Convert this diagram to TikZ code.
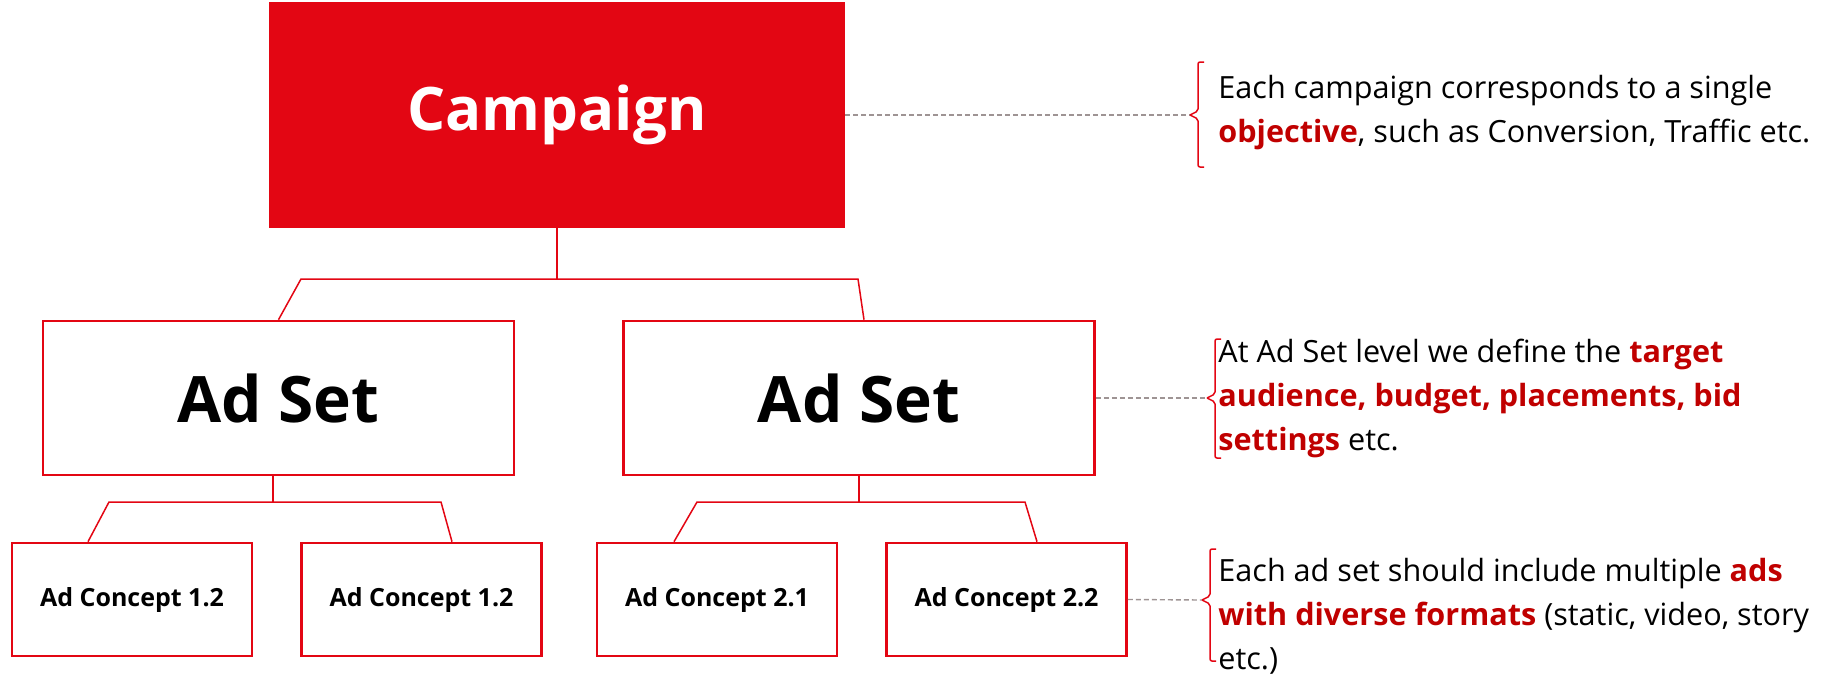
\documentclass[tikz,border=0pt]{standalone}
\usepackage{fontspec}
\setmainfont{Open Sans}
\definecolor{brandred}{HTML}{E30613}
\definecolor{keyred}{HTML}{C00000}
\definecolor{leadgray}{HTML}{9E9494}
\newcommand{\keyterm}[1]{\textcolor{keyred}{\textbf{#1}}}
\tikzset{
  levelbox/.style={draw=brandred, line width=1.3pt, fill=white, inner sep=0pt},
  link/.style={draw=brandred, line width=0.75pt},
  lead/.style={draw=leadgray, line width=0.7pt, dash pattern=on 2.5pt off 1.5pt},
  bracket/.style={draw=brandred, line width=0.75pt, rounded corners=1pt},
  note/.style={anchor=west, align=left, inner sep=0pt, font=\fontsize{15.3}{22}\selectfont}
}

\begin{document}
\begin{tikzpicture}[x=0.5pt, y=-0.5pt]
      \useasboundingbox (0,0) rectangle (1831,675);
      \node[levelbox, fill=brandred, text=white, minimum width=287pt, minimum height=111.5pt,
            font=\fontsize{30}{36}\selectfont\bfseries] (camp) at (557,115) {Campaign};
      \node[levelbox, minimum width=235.5pt, minimum height=77pt, font=\fontsize{32}{40}\selectfont\bfseries]
            (adsetA) at (278.5,398) {Ad Set};
      \node[levelbox, minimum width=235.5pt, minimum height=77pt, font=\fontsize{32}{40}\selectfont\bfseries]
            (adsetB) at (859,398) {Ad Set};
      \node[levelbox, minimum width=120pt, minimum height=56.5pt, font=\fontsize{12.5}{16}\selectfont\bfseries]
            (ac1) at (132,599.5) {Ad Concept 1.2};
      \node[levelbox, minimum width=120pt, minimum height=56.5pt, font=\fontsize{12.5}{16}\selectfont\bfseries]
            (ac2) at (421.5,599.5) {Ad Concept 1.2};
      \node[levelbox, minimum width=120pt, minimum height=56.5pt, font=\fontsize{12.5}{16}\selectfont\bfseries]
            (ac3) at (717,599.5) {Ad Concept 2.1};
      \node[levelbox, minimum width=120pt, minimum height=56.5pt, font=\fontsize{12.5}{16}\selectfont\bfseries]
            (ac4) at (1006.5,599.5) {Ad Concept 2.2};
      % campaign to ad sets
      \coordinate (jA) at (301,279);
      \coordinate (jB) at (858,279);
      \draw[link] (camp.south) -- (camp.south |- jA);
      \draw[link] (adsetA.north) -- (jA) -- (jB) -- ([xshift=2.5pt]adsetB.north);
      % first ad set to its concepts
      \coordinate (jA1) at (109,502);
      \coordinate (jA2) at (441,502);
      \draw[link] ([xshift=-2.75pt]adsetA.south) -- ([xshift=-2.75pt]adsetA.south |- jA1);
      \draw[link] ([xshift=-22pt]ac1.north) -- (jA1) -- (jA2) -- ([xshift=15.25pt]ac2.north);
      % second ad set to its concepts
      \coordinate (jB1) at (697,502);
      \coordinate (jB2) at (1025,502);
      \draw[link] (adsetB.south) -- (adsetB.south |- jB1);
      \draw[link] ([xshift=-21.5pt]ac3.north) -- (jB1) -- (jB2) -- ([xshift=15.25pt]ac4.north);
      % notes on the right
      \coordinate (tip1) at (1190,115);
      \coordinate (tip2) at (1207,398);
      \coordinate (tip3) at (1202,600);
      \draw[lead] (camp.east) -- (tip1);
      \draw[lead] (adsetB.east) -- (tip2);
      \draw[lead] (ac4.east) -- (tip3);
      \draw[bracket] (tip1) -- ++(8,-4) -- ++(0,-49) -- ++(6,0);
      \draw[bracket] (tip1) -- ++(8,4) -- ++(0,48) -- ++(6,0);
      \draw[bracket] (tip2) -- ++(8,-4) -- ++(0,-55) -- ++(6,0);
      \draw[bracket] (tip2) -- ++(8,4) -- ++(0,56) -- ++(6,0);
      \draw[bracket] (tip3) -- ++(8,-4) -- ++(0,-47) -- ++(6,0);
      \draw[bracket] (tip3) -- ++(8,4) -- ++(0,57) -- ++(6,0);
      \node[note] (note1) at (1218,113) {Each campaign corresponds to a single\\
            \keyterm{objective}, such as Conversion, Traffic etc.};
      \node[note] (note2) at (1218,398) {At Ad Set level we define the \keyterm{target}\\
            \keyterm{audience, budget, placements, bid}\\
            \keyterm{settings} etc.};
      \node[note] (note3) at (1218,616) {Each ad set should include multiple \keyterm{ads}\\
            \keyterm{with diverse formats} (static, video, story\\
            etc.)};
\end{tikzpicture}
\end{document}
